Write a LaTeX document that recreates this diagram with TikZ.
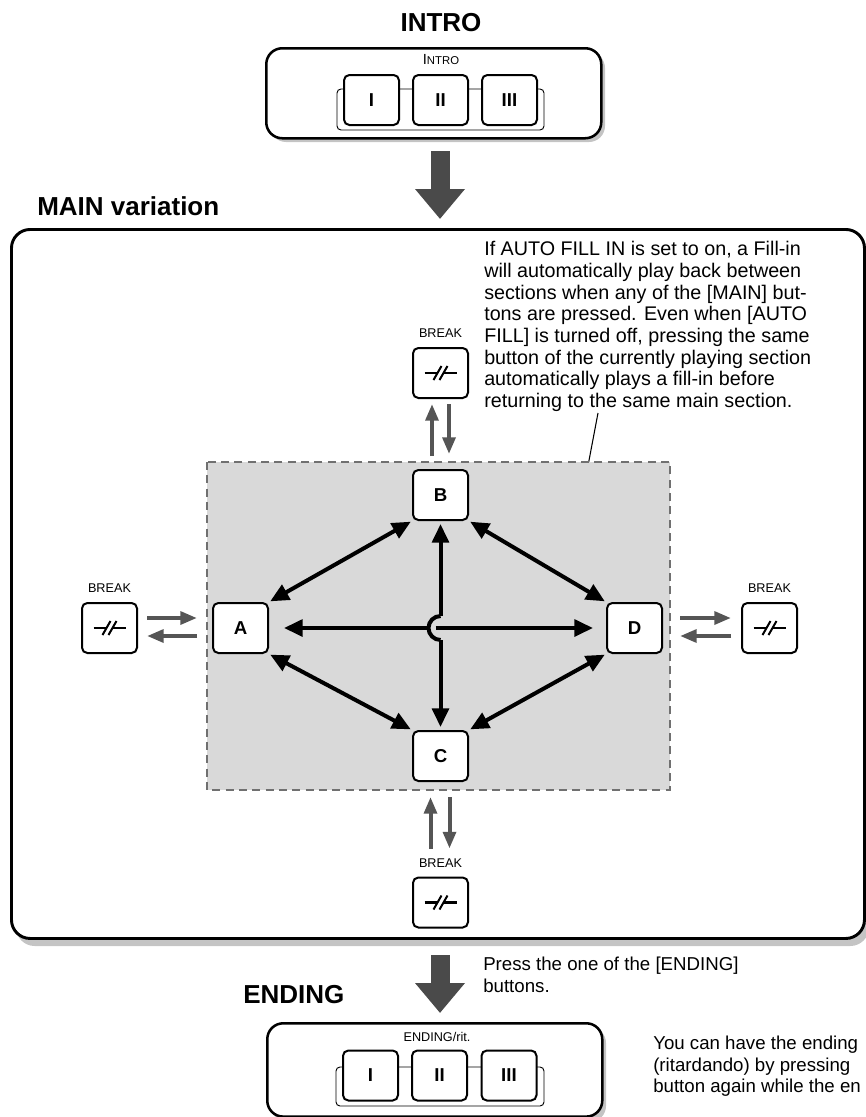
\documentclass[tikz,border=0pt]{standalone}
\usepackage{fontspec}
\setmainfont{Liberation Sans}
\usetikzlibrary{arrows.meta,calc}
\definecolor{regiongray}{HTML}{D9D9D9}
\definecolor{dashgray}{HTML}{707070}
\definecolor{arrgray}{HTML}{555555}
\definecolor{bigarrgray}{HTML}{4A4A4A}
\definecolor{shadowgray}{HTML}{C4C4C4}
\begin{document}
\begin{tikzpicture}[x=0.75pt,y=-0.75pt,
  btn/.style={draw, line width=1.5pt, rounded corners=4pt, fill=white, minimum width=41.25pt, minimum height=37.5pt, inner sep=0pt, font=\fontsize{14}{14}\selectfont\bfseries},
  smalllbl/.style={inner sep=0pt, font=\fontsize{9.5}{9.5}\selectfont},
  title/.style={inner sep=0pt, font=\fontsize{19.5}{19.5}\selectfont\bfseries},
  body/.style={inner sep=0pt, align=left, font=\fontsize{14}{16.1}\selectfont},
  panel/.style={draw, line width=1.9pt, rounded corners=12pt, fill=white, inner sep=0pt},
  panelshadow/.style={fill=shadowgray, rounded corners=12pt},
  dbl/.style={line width=3pt, {Triangle[length=14pt,width=12.5pt]}-{Triangle[length=14pt,width=12.5pt]}, shorten <=1pt, shorten >=1pt},
  one/.style={line width=3pt, -{Triangle[length=14pt,width=12.5pt]}},
  garr/.style={line width=3pt, draw=arrgray, -{Triangle[length=12.5pt,width=9.5pt]}},
  bigarr/.style={line width=14.25pt, draw=bigarrgray, -{Triangle[length=22.5pt,width=36pt]}},
  backing/.style={draw, line width=0.7pt, rounded corners=3pt, fill=white},
  brksym/.pic={\draw[line width=1.9pt] (-16,0)--(-3,0) (3,0)--(16,0); \draw[line width=1.5pt] (-7,7)--(1,-7) (-1,7)--(7,-7);}
]
\useasboundingbox (0,0) rectangle (865,1117);

% ---------- INTRO ----------
\node[title] (tintro) at (441,23) {INTRO};
\fill[panelshadow] (270,52) rectangle (605,142);
\node[panel, minimum width=251.25pt, minimum height=67.5pt, anchor=north west] (intro) at (265,47) {};
\node[smalllbl] (lintro) at (441,60) {{\fontsize{11}{11}\selectfont I}{\fontsize{8.5}{8.5}\selectfont NTRO}};
\draw[backing] (337,89) rectangle (544,130);
\node[btn] (i1) at (371.5,100) {I};
\node[btn] (i2) at (440.5,100) {II};
\node[btn] (i3) at (509.5,100) {III};

\coordinate (a1s) at (440,151);
\coordinate (a1e) at (440,219);
\draw[bigarr] (a1s) -- (a1e);

% ---------- MAIN ----------
\node[title, anchor=west] (tmain) at (37,206) {MAIN variation};
\fill[panelshadow, rounded corners=14pt] (16,237) rectangle (869,946);
\node[panel, line width=2.2pt, rounded corners=14pt, minimum width=639.75pt, minimum height=531.75pt, anchor=north west] (main) at (10,228) {};

\node[body, anchor=north west, font=\fontsize{14.8}{16.3}\selectfont] (note) at (484,241) {If AUTO FILL IN is set to on, a Fill-in\\will automatically play back between\\sections when any of the [MAIN] but-\\tons are pressed. Even when [AUTO\\FILL] is turned off, pressing the same\\button of the currently playing section\\automatically plays a fill-in before\\returning to the same main section.};
\coordinate (pl1) at (598,413);
\coordinate (pl2) at (587,471);
\draw[line width=0.8pt] (pl1) -- (pl2);

\draw[dashgray, line width=1.1pt, dash pattern=on 6pt off 4pt, fill=regiongray] (207,462) rectangle (670,790);

\node[btn] (B) at (440.5,495) {B};
\node[btn] (A) at (240.5,628) {A};
\node[btn] (D) at (634.5,628) {D};
\node[btn] (C) at (440.5,756) {C};

\node[btn] (bt) at (440.5,373) {};
\node[btn] (bl) at (109.5,628) {};
\node[btn] (br) at (769.5,628) {};
\node[btn] (bb) at (440.5,902.5) {};
\pic at (bt) {brksym};
\pic at (bl) {brksym};
\pic at (br) {brksym};
\pic at (bb) {brksym};
\node[smalllbl] (lbt) at (440.5,333) {BREAK};
\node[smalllbl] (lbl) at (109.5,588) {BREAK};
\node[smalllbl] (lbr) at (769.5,588) {BREAK};
\node[smalllbl] (lbb) at (440.5,863) {BREAK};

% diagonal double arrows
\draw[dbl] (B.south west) -- (A.north east);
\draw[dbl] (B.south east) -- (D.north west);
\draw[dbl] (A.south east) -- (C.north west);
\draw[dbl] (D.south west) -- (C.north east);

% cross
\coordinate (ctr) at (440.5,628);
\draw[one] ($(ctr)+(-12,0)$) -- ($(A.east)+(15,0)$);
\draw[one] ($(ctr)+(-5,0)$) -- ($(D.west)+(-13,0)$);
\draw[one] ($(ctr)+(0,-12)$) -- ($(B.south)+(0,3)$);
\draw[one] ($(ctr)+(0,12)$) -- ($(C.north)+(0,-3)$);
\draw[line width=3pt] ($(ctr)+(0,-12)$) arc[start angle=270, end angle=90, radius=12];

% gray break arrows
\draw[garr] ($(B.north)+(-8.5,-13)$) -- ($(bt.south)+(-8.5,5)$);
\draw[garr] ($(bt.south)+(8.5,5)$) -- ($(B.north)+(8.5,-15)$);
\draw[garr] ($(bb.north)+(-10,-28)$) -- ($(C.south)+(-10,15)$);
\draw[garr] ($(C.south)+(9,15)$) -- ($(bb.north)+(9,-28)$);
\draw[garr] ($(bl.east)+(9,-10)$) -- ($(A.west)+(-15,-10)$);
\draw[garr] ($(A.west)+(-15,8)$) -- ($(bl.east)+(9,8)$);
\draw[garr] ($(D.east)+(17,-10)$) -- ($(br.west)+(-10,-10)$);
\draw[garr] ($(br.west)+(-10,8)$) -- ($(D.east)+(17,8)$);

% ---------- ENDING ----------
\coordinate (a2s) at (440,955);
\coordinate (a2e) at (440,1013);
\draw[bigarr] (a2s) -- (a2e);
\node[body, anchor=north west] (press) at (483,957) {Press the one of the [ENDING]\\buttons.};
\node[title, anchor=west] (tend) at (243,995) {ENDING};
\fill[panelshadow] (271,1027) rectangle (606,1122);
\node[panel, minimum width=251.25pt, minimum height=70pt, anchor=north west] (ending) at (266,1022) {};
\node[smalllbl] (lend) at (437,1037) {ENDING/rit.};
\draw[backing] (336,1067) rectangle (544,1106);
\node[btn] (e1) at (370.5,1075.5) {I};
\node[btn] (e2) at (439.5,1075.5) {II};
\node[btn] (e3) at (509,1075.5) {III};
\node[body, anchor=north west] (ritnote) at (653,1036) {You can have the ending\\(ritardando) by pressing\\button again while the en};
\end{tikzpicture}
\end{document}
